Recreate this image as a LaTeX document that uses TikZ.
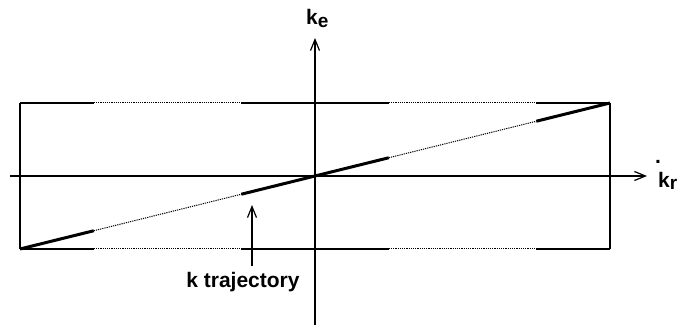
\documentclass[tikz,border=0pt]{standalone}
\usepackage{fontspec}
\setmainfont{Liberation Sans}
\usetikzlibrary{arrows.meta,calc}

\begin{document}
\begin{tikzpicture}[x=1pt,y=-1pt,
  font=\bfseries\fontsize{21}{23}\selectfont, >={Straight Barb[length=11pt,width=9pt]},
  axis/.style={line width=1.2pt},
  edge/.style={line width=1.2pt},
  solidpart/.style={line width=3pt},
  dotpart/.style={line width=1pt,dash pattern=on 1.2pt off 1pt},
  lab/.style={inner sep=0pt}]
\useasboundingbox (0,0) rectangle (682,328);
% box corners and origin
\coordinate (tl) at (20,103);
\coordinate (tr) at (610,103);
\coordinate (bl) at (20,249);
\coordinate (br) at (610,249);
\coordinate (o) at (315,176);
% axes
\coordinate (xa) at (10,176);
\coordinate (xb) at (647,176);
\coordinate (ya) at (315,325);
\coordinate (yb) at (315,38);
\draw[axis,->] (xa) -- (xb);
\draw[axis,->] (ya) -- (yb);
\node[lab,anchor=base west] (kr) at (658,188)
  {\rlap{\kern-3pt\raisebox{24pt}{.}}k\raisebox{-2pt}{\fontsize{19}{19}\selectfont r}};
\node[lab,anchor=base west] (ke) at (306,25) {k\raisebox{-3pt}{\fontsize{19}{19}\selectfont e}};
% box sides
\draw[edge] (tl) -- (bl);
\draw[edge] (tr) -- (br);
% solid and dotted pieces of the box and the trajectory
\foreach \a/\b in {0/.125,.375/.625,.875/1} {
  \draw[edge] ($(tl)!\a!(tr)$) -- ($(tl)!\b!(tr)$);
  \draw[edge] ($(bl)!\a!(br)$) -- ($(bl)!\b!(br)$);
  \draw[solidpart] ($(bl)!\a!(tr)$) -- ($(bl)!\b!(tr)$);
}
\foreach \a/\b in {.125/.375,.625/.875} {
  \draw[dotpart] ($(tl)!\a!(tr)$) -- ($(tl)!\b!(tr)$);
  \draw[dotpart] ($(bl)!\a!(br)$) -- ($(bl)!\b!(br)$);
  \draw[dotpart] ($(bl)!\a!(tr)$) -- ($(bl)!\b!(tr)$);
}
% trajectory label
\node[lab,anchor=base] (traj) at (243,288) {k trajectory};
\coordinate (tail) at (252,266);
\coordinate (tip) at (252,205);
\draw[axis,->] (tail) -- (tip);
\end{tikzpicture}
\end{document}
